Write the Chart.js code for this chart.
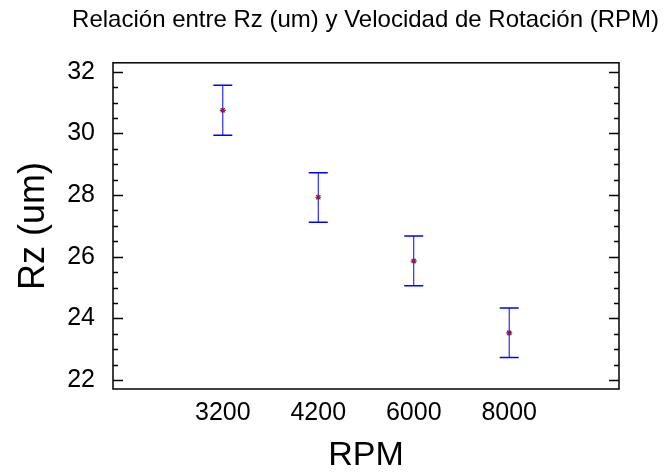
<!DOCTYPE html>
<html>
<head>
<meta charset="utf-8">
<script src="https://cdn.jsdelivr.net/npm/chart.js@4"></script>
<style>
  html, body { margin: 0; padding: 0; background: #fff; }
  #wrap { width: 668px; height: 476px; }
</style>
</head>
<body>
<div id="wrap"><canvas id="canvas"></canvas></div>
<script>
// datos
var categorias = ['3200', '4200', '6000', '8000'];
var medias = [30.75, 27.93, 25.86, 23.53];
var limInf = [29.94, 27.12, 25.06, 22.73];
var limSup = [31.56, 28.72, 26.67, 24.34];
var yTicks = [22, 24, 26, 28, 30, 32];
var yMinor = [22, 22.5, 23, 23.5, 24, 24.5, 25, 25.5, 26, 26.5, 27, 27.5, 28, 28.5, 29, 29.5, 30, 30.5, 31, 31.5, 32];

var fuente = "'Liberation Sans', Arial, sans-serif";

// puntos de las medias
var puntosMedia = medias.map(function (v, i) { return { x: i, y: v }; });

// barras de error: inferior, superior, corte
var puntosError = [];
for (var i = 0; i < categorias.length; i++) {
  puntosError.push({ x: i, y: limInf[i] });
  puntosError.push({ x: i, y: limSup[i] });
  puntosError.push({ x: i, y: null });
}

// marco y marcas hacia dentro (izq. y der.)
var marco = {
  id: 'marco',
  afterDatasetsDraw: function (chart) {
    var c = chart.ctx, a = chart.chartArea, ys = chart.scales.y;
    c.save();
    c.strokeStyle = '#000';
    c.lineWidth = 1.5;
    c.strokeRect(a.left, a.top, a.right - a.left, a.bottom - a.top);
    c.beginPath();
    yMinor.forEach(function (v) {
      var py = Math.round(ys.getPixelForValue(v)) + 0.5;
      var len = yTicks.indexOf(v) >= 0 ? 10 : 5;
      c.moveTo(a.left, py); c.lineTo(a.left + len, py);
      c.moveTo(a.right, py); c.lineTo(a.right - len, py);
    });
    c.stroke();
    c.restore();
  }
};

var ctx = document.getElementById('canvas').getContext('2d');

var myChart = new Chart(ctx, {
  type: 'scatter',
  data: {
    datasets: [{
      label: 'Media',
      data: puntosMedia,
      pointStyle: 'star',
      pointRadius: 3,
      borderColor: '#8b1a55',
      backgroundColor: '#8b1a55',
      borderWidth: 1.2
    }, {
      label: 'Intervalo',
      data: puntosError,
      showLine: true,
      spanGaps: false,
      borderColor: '#0000ff',
      borderWidth: 1,
      pointStyle: 'line',
      pointRadius: 9.5,
      pointBorderColor: '#0000ff',
      pointBorderWidth: 1.5
    }]
  },
  options: {
    responsive: true,
    maintainAspectRatio: false,
    animation: false,
    layout: { padding: { left: 0, right: 9, top: 0, bottom: 0 } },
    plugins: {
      legend: { display: false },
      tooltip: { enabled: false },
      title: {
        display: true,
        align: 'end',
        text: 'Relación entre Rz (um) y Velocidad de Rotación (RPM)',
        color: '#000',
        font: { family: fuente, size: 24, weight: 'normal' },
        padding: { top: 6, bottom: 28 }
      }
    },
    scales: {
      x: {
        type: 'linear',
        min: -1.15,
        max: 4.15,
        afterBuildTicks: function (s) {
          s.ticks = categorias.map(function (c, i) { return { value: i }; });
        },
        afterFit: function (s) { s.height = 87; },
        ticks: {
          color: '#000',
          padding: 1,
          font: { family: fuente, size: 25 },
          callback: function (v) { return categorias[v]; }
        },
        grid: { display: false },
        border: { display: false },
        title: {
          display: true,
          text: 'RPM',
          color: '#000',
          font: { family: fuente, size: 34 },
          padding: { top: 0, bottom: 0 }
        }
      },
      y: {
        min: 21.71,
        max: 32.29,
        afterBuildTicks: function (s) {
          s.ticks = yTicks.map(function (v) { return { value: v }; });
        },
        afterFit: function (s) { s.width = 113; },
        ticks: {
          color: '#000',
          padding: 10,
          font: { family: fuente, size: 25 }
        },
        grid: { display: false },
        border: { display: false },
        title: {
          display: true,
          text: 'Rz (um)',
          color: '#000',
          font: { family: fuente, size: 36 },
          padding: { top: 12, bottom: 0 }
        }
      },
      y2: {
        position: 'right',
        min: 21.71,
        max: 32.29,
        afterFit: function (s) { s.width = 40; },
        ticks: { display: false },
        grid: { display: false },
        border: { display: false }
      }
    }
  },
  plugins: [marco]
});
</script>
</body>
</html>
